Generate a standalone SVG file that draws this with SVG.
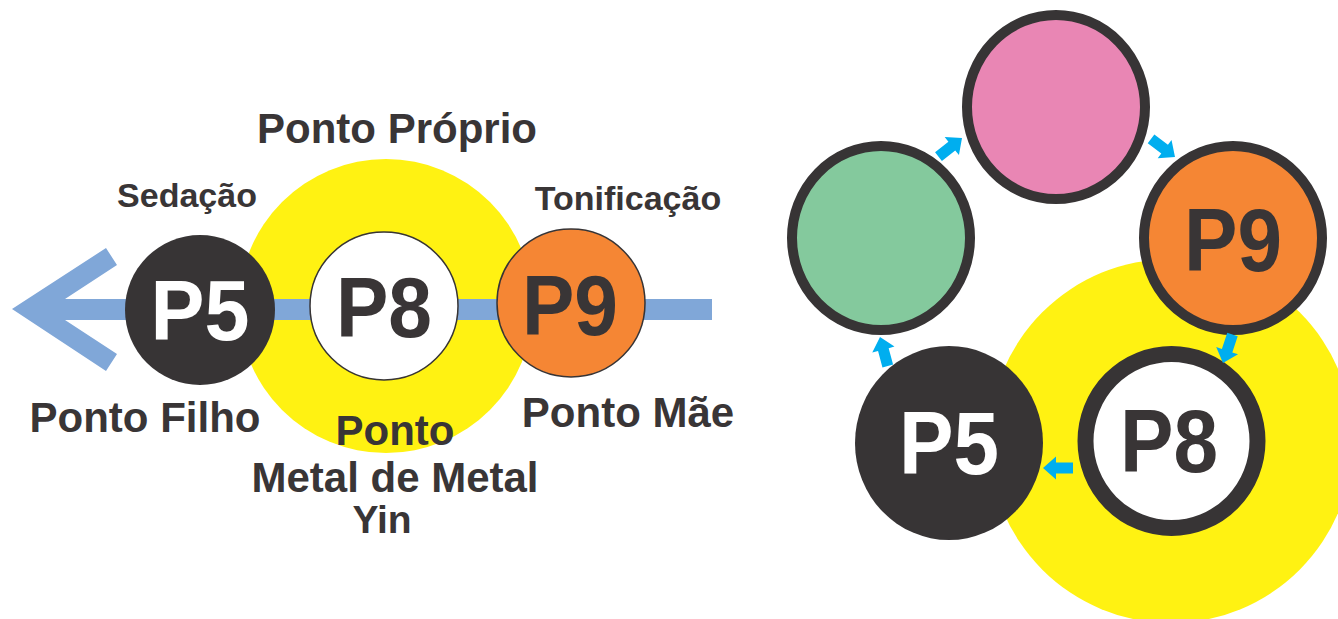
<svg xmlns="http://www.w3.org/2000/svg" width="1338" height="619" viewBox="0 0 1338 619">
<style>
text{font-family:"Liberation Sans",Arial,sans-serif;font-weight:bold;fill:#393536;text-anchor:middle}
.lbl{font-size:42px}
.sm{font-size:34px}
.big{font-size:85px}
.bigr{font-size:89px}
.w{fill:#ffffff}
.yel{fill:#fff212}
.thin{stroke:#373435;stroke-width:1.5}
.thick{stroke:#373435;stroke-width:10}
.cy{fill:#00aeef}
</style>
<defs>
<polygon id="ca" points="0,0 -13,-11.5 -13,-5.5 -30,-5.5 -30,5.5 -13,5.5 -13,11.5"/>
</defs>
<rect width="1338" height="619" fill="#ffffff"/>

<!-- Left diagram -->
<g id="halo-left"><circle class="yel" cx="386" cy="306" r="147"/></g>
<g id="connectors-left">
<polygon fill="#80a7d8" points="12,309 106,248 117,265 65,299 712,299 712,320 65,320 117,354 106,371"/>
</g>
<g id="p5-left">
<circle cx="200" cy="310" r="75" fill="#373435"/>
<text class="big w" x="200" y="340" textLength="99" lengthAdjust="spacingAndGlyphs">P5</text>
</g>
<g id="p8-left">
<circle cx="384" cy="306" r="74" fill="#ffffff" class="thin"/>
<text class="big" x="384" y="337" textLength="96" lengthAdjust="spacingAndGlyphs">P8</text>
</g>
<g id="p9-left">
<circle cx="571" cy="303" r="74" fill="#f58634" class="thin"/>
<text class="big" x="570" y="335" textLength="96" lengthAdjust="spacingAndGlyphs">P9</text>
</g>
<g id="labels-left">
<text class="lbl" x="397" y="143">Ponto Próprio</text>
<text class="sm" x="187" y="207">Sedação</text>
<text class="sm" x="628" y="210">Tonificação</text>
<text class="lbl" x="145" y="432">Ponto Filho</text>
<text class="lbl" x="628" y="427">Ponto Mãe</text>
<text class="lbl" x="395" y="445">Ponto</text>
<text class="lbl" x="395" y="492">Metal de Metal</text>
<text class="lbl" x="382" y="533" style="font-size:39px">Yin</text>
</g>

<!-- Right diagram -->
<g id="halo-right"><circle class="yel" cx="1171" cy="441" r="182"/></g>
<g id="pink">
<ellipse cx="1056" cy="107" rx="89" ry="92" fill="#e986b4" class="thick"/>
</g>
<g id="green">
<ellipse cx="881" cy="238" rx="89" ry="92" fill="#84c99d" class="thick"/>
</g>
<g id="p9-right">
<ellipse cx="1233" cy="238" rx="89" ry="92" fill="#f58634" class="thick"/>
<text class="bigr" x="1233" y="271" textLength="98" lengthAdjust="spacingAndGlyphs">P9</text>
</g>
<g id="p8-right">
<ellipse cx="1171.5" cy="441" rx="86" ry="87" fill="#ffffff" stroke="#373435" stroke-width="16"/>
<text class="bigr" x="1169" y="472" textLength="98" lengthAdjust="spacingAndGlyphs">P8</text>
</g>
<g id="p5-right">
<ellipse cx="949" cy="443" rx="94" ry="97" fill="#373435"/>
<text class="bigr w" x="949" y="474" textLength="100" lengthAdjust="spacingAndGlyphs">P5</text>
</g>
<g id="connectors-right">
<use href="#ca" class="cy" transform="translate(962,138) rotate(-38.4)"/>
<use href="#ca" class="cy" transform="translate(1175,157) rotate(37)"/>
<use href="#ca" class="cy" transform="translate(1223,363) rotate(108.4)"/>
<use href="#ca" class="cy" transform="translate(1043,468) rotate(180)"/>
<use href="#ca" class="cy" transform="translate(880,337) rotate(255)"/>
</g>
</svg>
